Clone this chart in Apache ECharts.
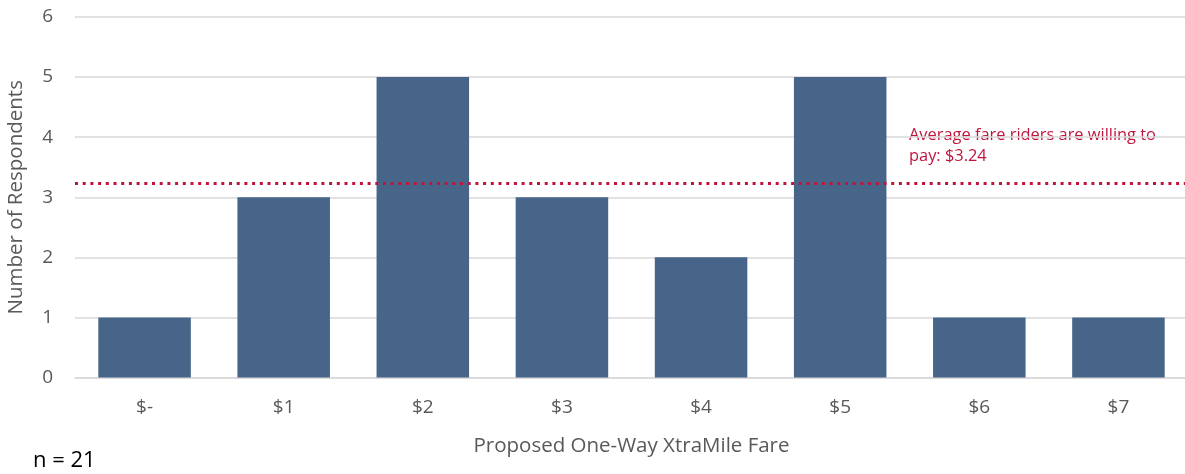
<!DOCTYPE html>
<html>
<head>
<meta charset="utf-8">
<script src="https://cdn.jsdelivr.net/npm/echarts@6/dist/echarts.min.js"></script>
<style>
  html, body { margin: 0; padding: 0; background: #fff; }
  #chart { width: 1185px; height: 474px; }
</style>
</head>
<body>
<div id="chart"></div>
<script>
// Fare options offered to respondents and how many chose each
const fareLabels = ['$-', '$1', '$2', '$3', '$4', '$5', '$6', '$7'];
const respondents = [1, 3, 5, 3, 2, 5, 1, 1];
const averageFare = 3.24;
const yTicks = [0, 1, 2, 3, 4, 5, 6];

const font = '"Open Sans", "Noto Sans", sans-serif';
const chart = echarts.init(document.getElementById('chart'), null, { renderer: 'canvas' });

chart.setOption({
  animation: false,
  grid: { left: 75, right: -3, top: 17, bottom: 96.5, containLabel: false, outerBoundsMode: 'none' },
  xAxis: {
    type: 'category',
    data: fareLabels,
    name: 'Proposed One-Way XtraMile Fare',
    nameLocation: 'middle',
    nameGap: 58,
    nameTextStyle: { color: '#595959', fontSize: 20.5, fontFamily: font },
    axisLine: { show: true, lineStyle: { color: '#D9D9D9', width: 1.5 } },
    axisTick: { show: false },
    axisLabel: { color: '#595959', fontSize: 19, fontFamily: font, margin: 21 }
  },
  yAxis: {
    type: 'value',
    min: yTicks[0],
    max: yTicks[yTicks.length - 1],
    interval: 1,
    name: 'Number of Respondents',
    nameLocation: 'middle',
    nameGap: 48,
    nameTextStyle: { color: '#595959', fontSize: 20.5, fontFamily: font },
    axisLine: { show: false },
    axisTick: { show: false },
    axisLabel: { color: '#595959', fontSize: 19, fontFamily: font, margin: 22 },
    splitLine: { lineStyle: { color: '#D9D9D9', width: 1.5 } }
  },
  series: [{
    type: 'bar',
    data: respondents,
    barWidth: '66.5%',
    itemStyle: { color: '#466589' },
    markLine: {
      silent: true,
      symbol: ['none', 'none'],
      lineStyle: { color: '#C0143C', width: 3, type: [3, 4.7] },
      label: { show: false },
      data: [{ yAxis: averageFare }]
    }
  }],
  graphic: [
    {
      type: 'text',
      left: 909,
      top: 125,
      style: {
        text: 'Average fare riders are willing to\npay: $' + averageFare.toFixed(2),
        fill: '#C0143C',
        font: '16.4px ' + font,
        lineHeight: 21
      }
    },
    {
      type: 'text',
      left: 33,
      top: 450,
      style: {
        text: 'n = 21',
        fill: '#000000',
        font: '22px ' + font
      }
    }
  ]
});
</script>
</body>
</html>
